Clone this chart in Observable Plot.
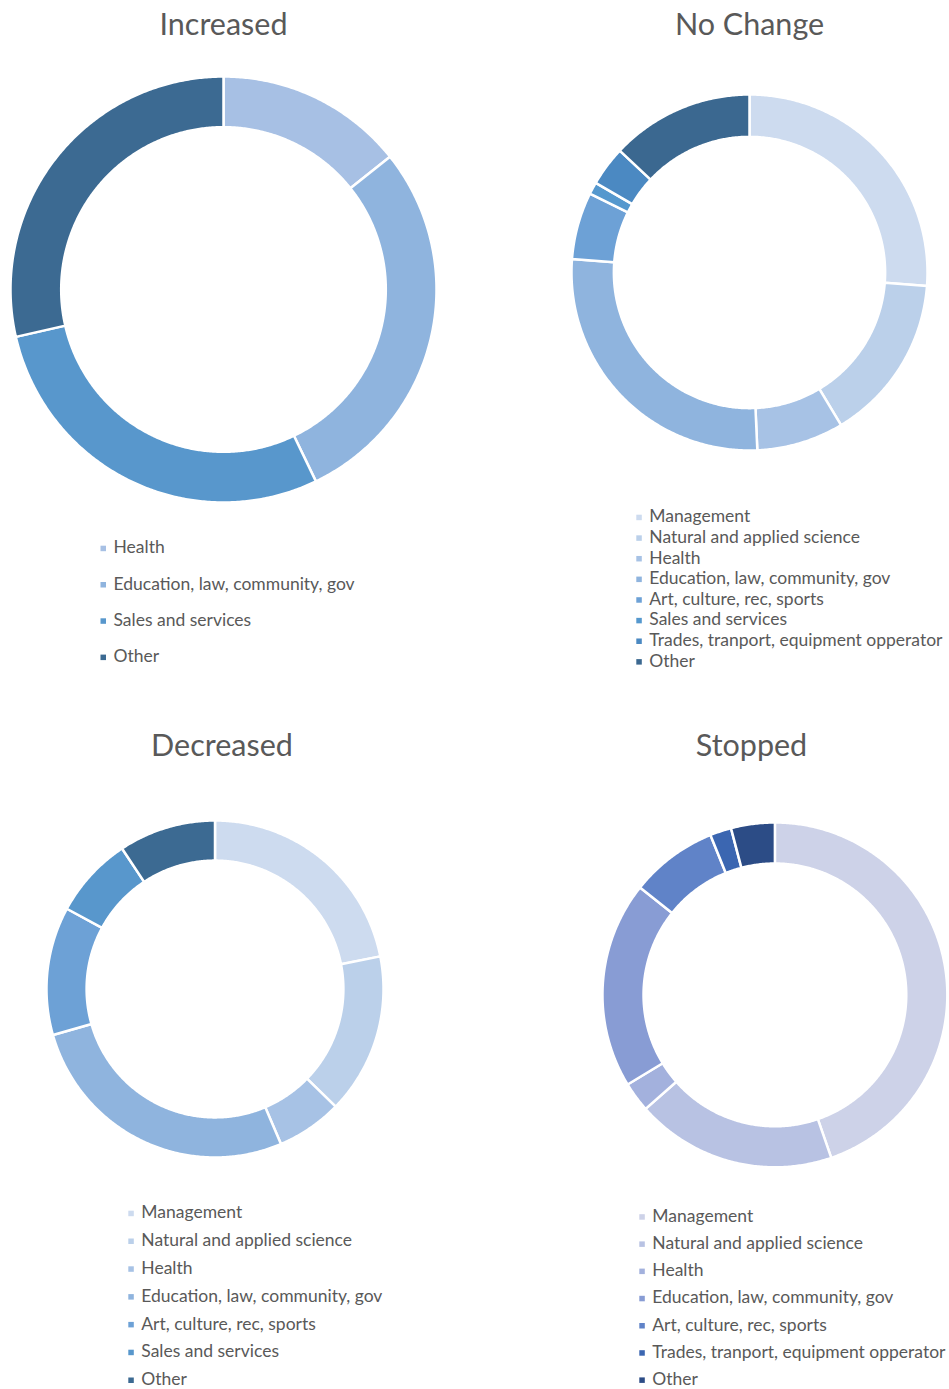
<!DOCTYPE html>
<html><head><meta charset="utf-8">
<script src="https://cdn.jsdelivr.net/npm/d3@7"></script>
<script src="https://cdn.jsdelivr.net/npm/@observablehq/plot@0.6"></script>
<style>
html,body{margin:0;padding:0;background:#fff;}
#page{position:relative;width:949px;height:1389px;overflow:hidden;font-family:Lato,"Open Sans",sans-serif;}
.chart{position:absolute;}
#overlay{position:absolute;left:0;top:0;pointer-events:none;}
</style></head><body><div id="page"></div>
<script>
// ---- data ----
const increasedCategories = ["Health","Education, law, community, gov","Sales and services","Other"];
const increasedValues = [1,2,2,2];
const increasedColors = ["#A7C0E4","#8FB4DE","#5897CC","#3C6A92"];

const noChangeCategories = ["Management","Natural and applied science","Health","Education, law, community, gov","Art, culture, rec, sports","Sales and services","Trades, tranport, equipment opperator","Other"];
const noChangeValues = [26.2,15.2,7.9,26.9,6.1,1.1,3.6,13.0];
const noChangeColors = ["#CDDBEF","#BBD0EA","#A7C2E5","#8FB4DE","#6DA1D6","#5598CE","#4B89C2","#3B6890"];

const decreasedCategories = ["Management","Natural and applied science","Health","Education, law, community, gov","Art, culture, rec, sports","Sales and services","Other"];
const decreasedValues = [21.9,15.4,6.3,27.0,12.3,7.8,9.3];
const decreasedColors = ["#CDDBEF","#BBD0EA","#A7C2E5","#8FB4DE","#6DA1D6","#5897CC","#3C6A92"];

const stoppedCategories = ["Management","Natural and applied science","Health","Education, law, community, gov","Art, culture, rec, sports","Trades, tranport, equipment opperator","Other"];
const stoppedValues = [44.7,18.8,2.8,19.4,8.2,2.0,4.1];
const stoppedColors = ["#CDD2E8","#B8C2E3","#A3B1DD","#889CD4","#6083C8","#3B66B1","#2C4C86"];

// ---- layout ----
const charts = [
  {title:"Increased", cats:increasedCategories, vals:increasedValues, colors:increasedColors,
   cx:223, cy:289, r:213, tx:223.5, ty:34.5, lx:100.5, ly:553.3, step:36.3},
  {title:"No Change", cats:noChangeCategories, vals:noChangeValues, colors:noChangeColors,
   cx:749, cy:272, r:178, tx:749.5, ty:34.5, lx:636.3, ly:522.3, step:20.63},
  {title:"Decreased", cats:decreasedCategories, vals:decreasedValues, colors:decreasedColors,
   cx:214, cy:988.5, r:168.5, tx:222, ty:756, lx:128.3, ly:1218.3, step:27.8},
  {title:"Stopped", cats:stoppedCategories, vals:stoppedValues, colors:stoppedColors,
   cx:775.7, cy:995.5, r:173.5, tx:751.5, ty:756, lx:639.3, ly:1221.8, step:27.2}
];

const RO = 60, HOLE = 0.762, RI = RO*HOLE;

function sliceFeatures(cats, vals) {
  const arcs = d3.pie().sort(null).value(d => d)(vals);
  return arcs.map((a, i) => {
    const t1 = a.startAngle*180/Math.PI, t2 = a.endAngle*180/Math.PI;
    const n = Math.max(2, Math.ceil((t2 - t1)/0.5));
    const outer = [], inner = [];
    for (let k = 0; k <= n; k++) {
      const t = t1 + (t2 - t1)*k/n;
      outer.push([180 - t, 90 - RO]);
      inner.push([180 - t, 90 - RI]);
    }
    const ring = [...outer, ...inner.reverse(), outer[0]];
    return {type:"Feature", properties:{category:cats[i], value:vals[i]},
            geometry:{type:"Polygon", coordinates:[ring]}};
  });
}

const page = document.getElementById("page");
const overlay = d3.create("svg").attr("id","overlay").attr("width",949).attr("height",1389)
  .style("font-family","Lato, 'Open Sans', sans-serif");

const m = 2;
for (const c of charts) {
  const size = 2*c.r + 2*m;
  const plot = Plot.plot({
    width: size, height: size, margin: m,
    style: {background: "transparent", overflow: "visible"},
    projection: {type: "azimuthal-equidistant", rotate: [0, -90],
                 domain: d3.geoCircle().center([0, 90]).radius(RO).precision(1)()},
    color: {domain: c.cats, range: c.colors},
    marks: [
      Plot.geo(sliceFeatures(c.cats, c.vals), {fill: d => d.properties.category, stroke: "white", strokeWidth: 2.5})
    ]
  });
  const div = document.createElement("div");
  div.className = "chart";
  div.style.left = (c.cx - c.r - m) + "px";
  div.style.top = (c.cy - c.r - m) + "px";
  div.appendChild(plot);
  page.appendChild(div);

  const color = plot.scale("color");
  overlay.append("text").attr("x", c.tx).attr("y", c.ty).attr("text-anchor","middle")
    .attr("font-size", 30.5).attr("fill","#595959").text(c.title);
  c.cats.forEach((cat, i) => {
    const y = c.ly + i*c.step;
    overlay.append("rect").attr("x", c.lx).attr("y", y - 7.6).attr("width", 5.5).attr("height", 5.5)
      .attr("fill", color.apply(cat));
    overlay.append("text").attr("x", c.lx + 13).attr("y", y).attr("font-size", 17.5)
      .attr("fill","#595959").text(cat);
  });
}
page.appendChild(overlay.node());
</script></body></html>
